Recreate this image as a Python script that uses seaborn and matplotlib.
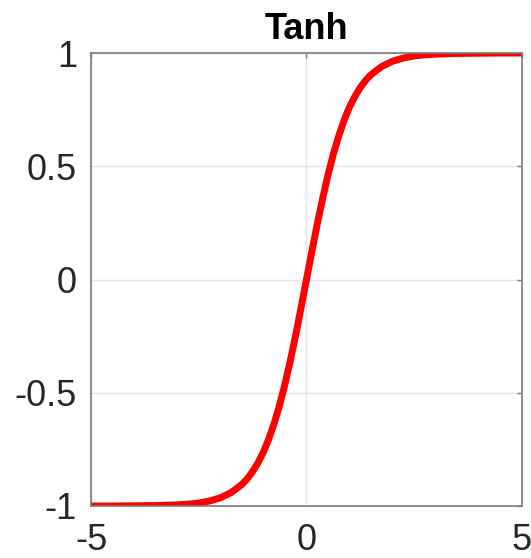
import matplotlib
matplotlib.use("Agg")
import matplotlib.pyplot as plt
import seaborn as sns
import pandas as pd

# points (symmetric about the origin)
x_pos = [0, 0.125, 0.25, 0.375, 0.5, 0.625, 0.75, 0.875, 1.0, 1.125, 1.25, 1.375,
         1.5, 1.75, 2.0, 2.25, 2.5, 2.75, 3.0, 3.5, 4.0, 4.5, 5.0]
y_pos = [0, 0.124, 0.245, 0.358, 0.462, 0.555, 0.635, 0.704, 0.762, 0.809, 0.848, 0.880,
         0.905, 0.941, 0.964, 0.978, 0.987, 0.992, 0.995, 0.998, 0.999, 1.0, 1.0]

x_vals = [-v for v in x_pos[:0:-1]] + x_pos
y_vals = [-v for v in y_pos[:0:-1]] + y_pos

x_ticks = [-5, 0, 5]
y_ticks = [-1, -0.5, 0, 0.5, 1]
y_labels = ["-1", "-0.5", "0", "0.5", "1"]

sns.set_style("white")
plt.rcParams["font.family"] = ["Liberation Sans", "DejaVu Sans"]

df = pd.DataFrame({"x": x_vals, "y": y_vals})

fig = plt.figure(figsize=(5.31, 5.58), dpi=100)
ax = fig.add_axes([0.1714, 0.0932, 0.8116, 0.8118])

ax.grid(True, color="#e3e3e3", linewidth=1.0)
ax.set_axisbelow(True)

sns.lineplot(data=df, x="x", y="y", color="#ff0000", linewidth=5.0, ax=ax,
             solid_capstyle="butt", solid_joinstyle="round", clip_on=True)

ax.set_xlim(-5, 5)
ax.set_ylim(-1, 1)
ax.set_xticks(x_ticks)
ax.set_xticklabels([str(t) for t in x_ticks])
ax.set_yticks(y_ticks)
ax.set_yticklabels(y_labels)
ax.tick_params(axis="both", labelsize=26, labelcolor="#262626", color="#7a7a7a",
               direction="in", length=3.5, width=1.0, top=True, right=True)
ax.tick_params(axis="x", pad=12)
ax.tick_params(axis="y", pad=10)
ax.set_xlabel("")
ax.set_ylabel("")
for s in ax.spines.values():
    s.set_color("#7a7a7a")
    s.set_linewidth(1.2)

ax.set_title("Tanh", fontsize=26, fontweight="bold", color="black", pad=10)

fig.savefig("out.png", dpi=100)
plt.close(fig)
